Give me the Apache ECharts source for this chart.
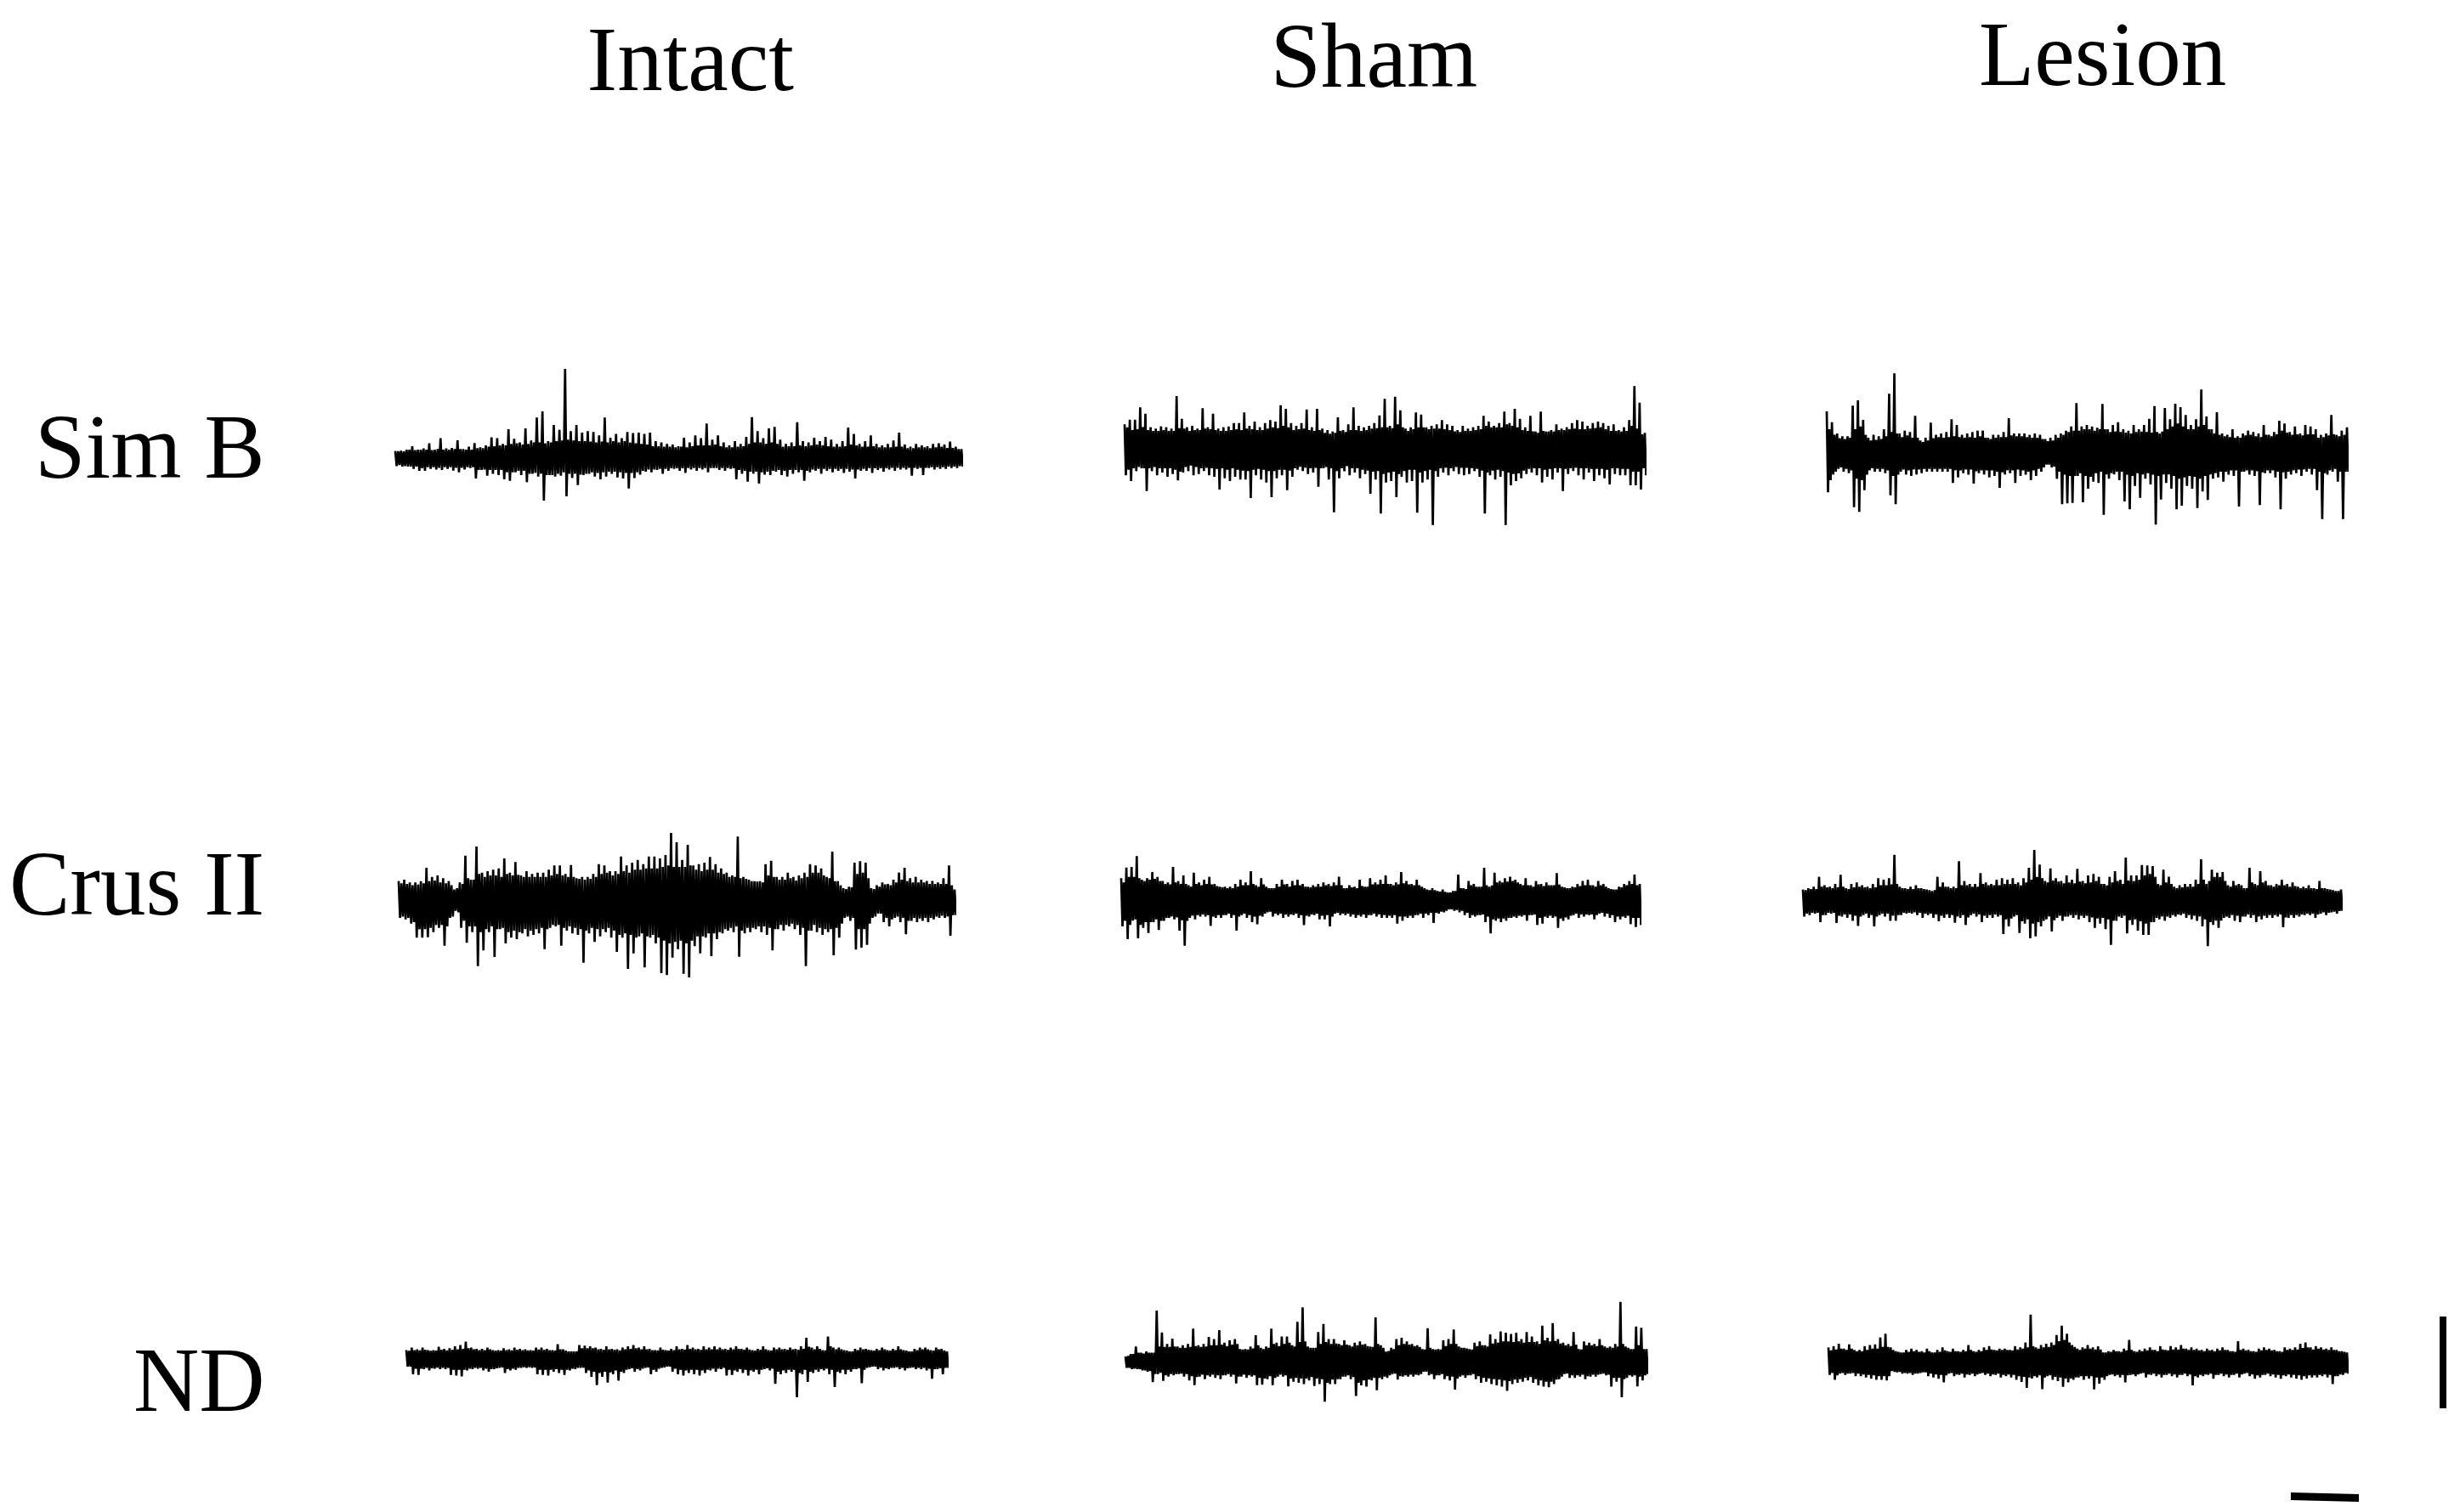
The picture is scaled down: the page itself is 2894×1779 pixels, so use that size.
<!DOCTYPE html>
<html><head><meta charset="utf-8">
<style>html,body{margin:0;padding:0;background:#fff}#c{width:2894px;height:1779px}</style>
<script src="https://cdn.jsdelivr.net/npm/echarts@6/dist/echarts.min.js"></script>
</head><body><div id="c"></div>
<script>
const columns = ['Intact','Sham','Lesion'];
const rows = ['Sim B','Crus II','ND'];
// envelope of each recording: upward and downward excursion per sample
const simBIntactUp = [25,26,30,42,30,34,52,30,70,34,36,63,32,40,53,38,45,73,70,50,102,68,55,105,62,143,165,60,117,100,315,95,117,90,95,92,80,143,72,85,70,92,88,90,85,90,60,55,50,48,42,72,55,80,70,122,65,80,55,45,60,50,75,145,95,70,105,110,65,50,55,127,60,55,72,60,75,65,50,60,108,85,50,60,80,50,45,50,62,90,48,40,50,45,42,50,52,48,58,40,32];
const simBIntactDown = [28,30,30,38,45,45,38,40,42,38,44,50,40,35,72,42,62,55,60,75,80,50,60,85,55,65,150,60,65,62,135,70,95,60,55,65,75,65,55,68,72,107,70,58,48,50,42,55,45,38,45,52,40,45,40,50,35,42,45,38,75,55,83,55,90,58,60,48,60,65,55,50,80,50,45,55,45,50,45,52,48,72,45,45,52,42,48,40,45,40,40,62,38,60,35,40,38,38,35,35,30];
const simBShamUp = [95,112,112,155,133,85,80,88,85,80,195,115,85,90,80,152,85,133,80,85,88,100,100,137,90,105,85,100,110,105,163,150,100,90,100,148,85,150,80,75,70,120,75,95,155,90,85,90,100,127,185,90,193,145,80,85,137,130,85,90,95,110,95,90,75,90,80,85,90,125,105,90,100,140,100,150,115,85,125,70,140,70,75,95,80,85,100,110,105,90,100,105,100,90,95,75,85,110,230,172,65];
const simBShamDown = [85,105,70,60,140,70,85,75,90,80,103,75,70,85,80,70,85,90,135,95,105,90,100,100,165,85,100,110,162,95,85,137,90,65,70,80,75,125,60,100,215,95,70,85,75,95,80,150,100,220,110,105,162,90,110,105,217,110,100,260,90,75,85,70,80,85,80,70,90,220,85,100,90,260,120,105,95,80,75,85,110,90,100,75,140,80,70,85,100,75,105,85,95,117,80,85,85,120,120,135,85];
const simBLesionUp = [153,115,75,65,65,173,192,123,60,70,65,90,215,287,75,85,80,137,50,60,113,70,75,80,125,105,70,75,80,85,85,60,70,70,80,129,75,75,75,70,75,70,55,60,70,75,85,100,182,100,105,100,95,179,90,105,115,90,85,105,90,105,127,172,75,165,125,180,168,140,105,125,230,135,90,150,75,70,90,65,75,85,80,75,105,70,80,120,110,80,100,75,105,100,90,70,75,140,70,85,97];
const simBLesionDown = [133,70,50,60,65,185,202,125,55,60,60,65,143,175,60,70,75,70,65,60,60,60,60,60,100,80,65,70,102,65,70,80,75,117,70,65,100,75,70,90,75,60,35,45,85,175,172,170,75,168,120,95,100,212,85,70,90,165,193,110,152,85,105,247,158,100,120,193,180,110,120,188,130,160,85,80,95,70,75,183,60,70,75,178,65,65,80,193,85,70,65,75,60,70,125,227,70,60,95,227,60];
const crusIntactUp = [70,75,65,65,70,117,85,90,80,70,40,65,160,75,192,100,105,110,115,150,100,137,90,105,95,100,100,110,125,125,95,127,80,85,85,95,130,125,105,105,157,125,135,145,130,157,157,150,162,240,207,145,198,125,130,135,155,130,115,100,90,227,85,75,70,70,130,142,85,85,100,85,90,100,130,125,115,85,174,70,45,50,135,140,135,45,55,65,60,75,100,117,80,85,75,70,70,65,80,125,40];
const crusIntactDown = [60,65,80,130,130,128,110,95,158,60,35,95,148,110,230,175,110,198,100,150,130,135,115,125,120,115,170,95,90,158,105,115,120,218,115,145,125,110,130,180,130,240,185,125,235,130,150,255,262,200,170,257,270,160,185,130,195,135,115,105,110,197,115,110,100,110,120,175,100,105,90,100,120,230,105,110,120,110,192,130,60,70,172,165,155,60,45,75,90,60,75,118,70,75,70,75,65,60,60,123,50];
const crusShamUp = [80,118,120,158,75,80,102,85,70,65,120,70,90,55,100,65,75,85,60,50,50,50,60,75,65,105,55,80,50,45,60,75,60,70,75,60,50,55,60,65,60,65,85,45,55,50,75,50,80,65,75,90,60,65,102,70,60,75,50,40,45,35,40,30,35,93,45,70,60,50,117,50,100,70,80,85,75,60,80,55,70,60,65,55,98,50,45,50,60,70,75,55,70,60,45,40,50,60,70,93,60];
const crusShamDown = [90,135,70,132,95,113,75,103,70,60,65,105,158,60,65,55,55,88,60,60,50,60,105,50,60,75,82,55,40,55,50,60,55,50,60,85,55,50,65,65,90,45,50,50,55,60,55,60,50,55,60,60,60,80,70,60,60,50,60,50,78,45,40,30,35,40,50,60,55,50,75,115,70,75,70,60,60,55,70,50,85,80,60,60,95,70,65,50,60,55,50,65,45,55,60,75,65,60,82,92,85];
const crusLesionUp = [40,45,50,85,55,50,60,92,45,60,65,55,50,60,80,75,80,163,50,45,50,55,45,40,35,85,65,50,50,140,70,60,60,98,65,60,75,80,75,80,65,80,117,180,128,70,115,80,70,90,75,113,70,90,95,85,60,85,105,75,153,90,90,127,125,123,60,110,85,50,55,60,60,75,147,60,110,100,102,55,70,60,45,117,60,105,70,55,60,75,60,65,50,50,55,45,70,45,40,35,40];
const crusLesionDown = [55,50,45,75,50,45,78,55,60,70,88,50,60,90,50,55,70,70,50,45,45,50,60,50,60,72,60,60,77,60,85,50,55,75,60,60,55,117,90,55,113,80,132,125,90,65,108,60,70,55,60,65,60,75,95,80,100,155,70,60,115,85,105,120,120,75,65,70,60,55,50,60,65,70,90,160,85,95,60,60,70,75,55,60,75,65,60,60,55,93,60,60,55,50,50,60,45,50,40,45,35];
const ndIntactUp = [35,45,38,45,35,35,48,40,42,50,55,68,45,40,40,45,35,35,42,38,45,40,38,35,45,45,40,35,58,38,30,30,55,52,50,45,40,50,40,38,45,50,55,45,50,40,35,45,35,40,50,40,55,45,40,50,45,50,45,40,45,50,40,45,35,40,50,35,45,45,40,45,40,50,83,45,50,35,88,45,45,35,30,40,45,40,35,40,45,35,40,50,35,30,40,45,45,35,45,40,30];
const ndIntactDown = [30,60,62,40,45,38,40,40,62,65,68,45,40,38,45,50,40,35,55,45,42,35,35,35,60,62,65,50,55,62,45,40,35,55,70,102,70,92,60,85,55,40,50,45,35,60,50,35,30,50,60,65,55,60,65,55,45,50,40,65,62,50,55,65,50,60,40,45,97,60,55,50,150,60,90,55,50,45,60,110,55,60,50,40,95,35,30,40,45,40,35,40,45,35,40,40,45,77,40,60,35];
const ndShamUp = [20,30,60,35,40,35,203,116,70,91,60,65,70,131,65,70,98,90,125,75,85,90,50,50,60,105,55,60,131,75,100,100,65,158,216,60,55,118,150,90,90,70,85,65,75,80,70,60,176,65,40,55,90,95,80,70,65,50,133,50,50,85,90,128,60,55,50,75,80,65,108,90,120,115,110,115,90,118,100,80,143,95,153,90,75,70,118,50,80,75,70,90,60,60,70,238,60,50,140,135,50];
const ndShamDown = [25,30,30,35,40,82,50,77,60,55,50,60,75,94,60,70,60,65,70,55,60,87,60,65,60,94,92,70,94,60,60,99,80,85,90,75,97,90,160,90,90,70,60,70,137,95,100,75,114,70,65,50,72,60,60,60,55,40,55,70,55,70,75,112,60,65,55,70,85,80,90,95,100,117,90,85,80,75,85,95,100,102,90,70,50,65,65,60,70,60,60,50,55,100,80,142,65,60,99,75,50];
const ndLesionUp = [60,65,75,55,72,50,50,65,70,72,100,115,60,45,40,50,55,50,45,55,40,50,60,45,55,45,50,70,45,50,60,65,50,55,55,50,65,60,80,192,60,70,75,80,110,147,115,70,55,60,70,60,65,40,45,50,45,55,90,45,50,55,60,50,65,50,65,60,70,55,60,55,50,55,50,55,60,50,45,85,55,50,45,55,60,55,50,45,60,55,60,75,80,60,65,60,55,60,50,45,40];
const ndLesionDown = [50,70,45,50,45,55,55,60,65,70,70,72,35,40,45,45,50,45,40,55,60,65,80,45,55,50,60,50,55,45,50,55,50,60,55,60,70,78,102,65,60,107,55,70,75,98,80,70,60,70,65,108,85,70,50,55,60,80,50,55,45,60,50,55,60,50,55,60,50,55,92,60,55,50,65,50,55,60,50,60,45,55,65,60,50,55,60,65,55,60,65,70,65,60,60,55,60,87,55,50,45];

// in-between samples, read at half steps from the dense part of each trace
const simBIntactMidUp = [24,24,30,28,30,30,28,32,30,30,32,32,30,30,35,35,40,42,45,45,50,52,48,50,55,55,52,55,60,62,65,62,60,60,58,55,58,55,60,55,60,55,52,50,48,42,42,40,40,38,40,38,42,45,45,45,48,42,38,38,40,42,50,55,55,50,55,50,40,42,42,45,42,45,48,45,42,40,40,42,48,45,40,40,42,38,38,38,40,40,35,35,38,38,35,38,40,36,36,32];
const simBIntactMidDown = [24,28,30,30,36,32,32,34,32,32,34,34,32,32,42,40,42,42,42,50,50,45,45,55,52,55,60,60,55,50,55,55,58,55,50,52,50,48,48,50,52,52,50,45,40,40,38,38,36,36,36,35,35,35,35,35,35,35,35,36,42,45,48,48,50,48,45,42,45,42,42,42,45,40,38,38,38,38,38,38,40,40,38,36,36,36,36,34,34,34,34,34,34,34,32,32,32,30,30,28];
const simBShamMidUp = [85,75,78,85,75,72,72,75,72,72,82,80,72,75,75,80,78,75,72,72,75,78,75,80,78,75,75,80,85,82,90,85,75,78,80,75,72,75,65,62,65,72,68,75,75,72,75,80,82,85,85,82,95,85,72,78,85,85,78,80,80,78,75,70,68,72,72,75,78,90,85,85,85,95,90,85,75,72,70,65,72,70,70,75,75,78,80,78,78,80,82,85,78,72,72,70,72,90,80,60];
const simBShamMidDown = [65,60,55,60,60,55,60,60,60,65,72,55,50,55,60,58,60,62,60,65,60,65,68,70,65,62,65,70,70,65,65,68,60,55,58,60,58,60,55,60,70,60,52,60,60,65,68,72,70,80,75,72,80,70,65,65,75,70,65,70,60,58,60,55,58,58,60,62,68,75,68,65,70,75,80,78,68,62,60,60,65,62,60,60,62,60,58,60,60,62,62,62,65,60,60,62,62,72,72,60];
const simBLesionMidUp = [90,70,58,55,60,90,100,70,50,52,55,65,80,75,62,68,60,60,45,50,58,62,60,62,65,62,60,62,60,65,60,55,60,62,62,68,65,65,62,60,60,55,48,50,60,70,80,85,85,90,90,85,90,90,80,82,80,78,75,80,82,80,78,80,82,90,100,110,100,90,90,100,105,90,75,70,65,62,60,60,68,70,65,62,70,65,72,85,78,70,72,68,72,72,60,62,68,72,65,70];
const simBLesionMidDown = [90,60,45,50,55,85,90,70,48,50,50,55,75,70,52,55,52,52,50,50,50,50,50,50,55,55,52,52,58,55,55,55,60,62,55,55,52,55,60,55,50,45,35,42,60,70,75,75,65,75,78,65,60,70,65,60,60,70,75,65,70,65,70,75,70,70,75,85,80,75,78,85,75,70,65,60,60,55,55,60,55,55,58,62,55,55,60,62,60,55,52,52,50,50,60,65,55,50,60,60];
const crusIntactMidUp = [62,60,55,58,62,70,72,65,62,55,45,60,80,75,95,85,90,90,85,95,90,92,85,85,85,85,85,90,95,90,85,85,78,75,78,85,95,100,90,95,105,100,110,110,115,115,115,120,125,120,120,120,125,110,105,110,110,100,95,85,85,80,78,70,68,65,90,85,75,75,80,72,80,85,100,100,90,80,70,55,42,48,95,100,80,42,50,58,55,65,75,70,65,65,65,60,60,60,60,55];
const crusIntactMidDown = [55,60,75,100,100,95,85,85,90,55,40,70,90,90,110,100,90,100,95,110,105,110,100,105,100,95,100,85,85,95,90,95,100,105,95,100,100,95,105,120,115,120,130,115,125,120,130,140,150,145,140,150,140,125,125,115,115,110,100,95,90,105,95,95,90,90,95,100,85,85,80,85,95,105,85,95,100,100,95,80,55,60,100,100,80,55,45,60,65,55,60,70,60,62,60,60,55,52,55,50];
const crusShamMidUp = [65,85,85,80,70,75,78,70,60,58,65,60,60,50,60,55,60,58,52,48,45,45,50,55,55,60,50,58,45,45,50,58,50,55,55,50,48,50,50,55,52,55,55,45,48,45,52,50,58,58,60,60,55,58,62,58,55,55,45,38,38,33,32,30,35,45,42,55,50,50,55,55,65,65,68,70,65,55,55,50,58,52,55,55,58,48,45,48,52,55,55,50,55,50,42,40,48,55,60,55];
const crusShamMidDown = [70,85,65,85,75,75,65,70,60,55,58,68,70,52,50,48,50,55,50,50,45,50,55,45,50,55,52,45,38,45,45,48,48,45,50,52,48,45,52,50,55,42,45,45,48,50,48,50,45,48,50,52,50,55,55,52,50,45,45,42,42,38,35,30,32,35,42,50,50,48,55,65,62,62,60,55,52,50,50,48,60,55,52,55,62,58,52,45,48,48,48,50,42,45,50,55,55,52,60,60];
const crusLesionMidUp = [38,42,42,50,48,45,48,50,42,48,50,48,45,48,55,55,58,60,45,42,42,45,42,38,38,50,50,45,45,55,55,50,50,60,55,55,55,60,60,60,55,65,75,85,80,65,72,68,62,65,62,68,62,65,70,60,55,65,70,60,72,70,75,90,95,85,55,65,60,45,48,50,50,60,75,70,85,85,70,50,55,55,45,65,55,65,55,50,55,55,50,52,45,45,45,42,45,42,38,35];
const crusLesionMidDown = [45,42,42,50,42,42,52,48,48,52,55,45,50,55,45,45,52,50,42,42,40,42,45,45,48,52,48,50,55,50,58,45,48,52,50,48,50,65,62,50,72,65,80,75,70,55,68,52,55,50,50,52,52,58,62,60,65,70,55,52,68,65,72,80,75,60,55,55,50,48,45,50,52,55,65,75,70,70,55,50,52,55,48,50,55,52,50,50,48,58,50,50,48,45,45,48,40,42,38,36];
const ndIntactMidUp = [32,35,34,36,32,33,36,34,36,38,40,42,38,35,35,38,33,33,35,34,36,35,34,33,37,36,35,33,38,33,30,30,42,42,42,38,36,38,36,34,38,40,42,38,38,35,34,36,33,35,38,37,40,38,36,38,38,38,38,36,38,40,36,37,33,36,38,33,38,38,36,38,36,40,48,38,40,34,50,38,38,33,30,35,38,36,33,35,38,33,35,38,33,30,35,38,38,33,38,34];
const ndIntactMidDown = [30,38,38,35,36,34,35,35,42,42,42,38,35,35,38,40,36,33,40,38,35,32,32,33,42,42,42,40,42,42,38,35,34,45,50,55,50,52,45,50,42,36,40,38,33,42,38,33,30,38,42,45,42,42,45,42,38,38,35,42,45,40,42,45,42,42,36,38,50,45,42,42,55,42,50,42,40,38,42,50,42,42,40,36,42,32,30,34,36,35,32,35,36,33,35,35,38,40,36,35];
const ndShamMidUp = [22,30,35,32,35,35,60,58,58,60,55,55,58,62,58,60,65,65,68,62,68,70,48,48,52,65,50,55,70,62,70,75,60,78,80,55,55,70,78,70,72,65,68,60,65,68,62,58,70,55,42,50,65,70,68,62,58,48,55,48,48,62,70,70,55,52,48,62,65,60,72,75,80,80,78,80,75,78,78,70,85,80,82,72,65,62,68,48,65,65,62,65,55,55,60,70,55,50,65,50];
const ndShamMidDown = [25,28,30,35,38,50,45,55,50,50,48,50,58,62,52,55,52,55,55,50,52,60,52,55,55,65,68,58,65,52,55,68,65,68,68,62,68,70,85,72,70,60,55,62,85,75,72,65,65,60,55,48,58,55,52,52,50,40,50,55,50,58,60,68,55,55,50,58,65,68,70,72,75,78,72,70,65,62,70,75,80,80,72,60,48,55,55,52,58,52,52,48,52,65,65,70,55,55,60,55];
const ndLesionMidUp = [48,52,55,50,55,45,45,50,55,55,62,62,50,42,40,42,45,42,40,45,40,42,48,42,45,42,45,50,42,45,50,52,48,50,50,48,52,55,60,65,55,60,62,70,85,90,80,62,50,55,55,52,52,40,42,45,42,48,50,42,45,48,50,45,52,48,52,52,55,50,50,48,45,48,45,48,50,45,42,50,48,45,42,48,50,48,45,42,50,50,52,58,60,52,55,52,50,50,45,42];
const ndLesionMidDown = [42,52,42,45,42,45,48,50,52,55,55,55,38,38,42,42,45,42,40,45,48,50,52,42,48,45,48,45,48,42,45,48,45,50,48,50,55,58,60,55,52,60,52,58,60,65,65,60,55,55,55,60,60,55,48,50,50,52,48,48,42,48,45,48,50,45,48,50,45,48,55,50,48,45,50,45,48,50,45,48,42,48,52,50,45,48,50,52,48,50,52,55,52,52,50,48,50,55,48,42];

const recordings = [
  [simBIntactUp, simBIntactDown, simBIntactMidUp, simBIntactMidDown],
  [simBShamUp, simBShamDown, simBShamMidUp, simBShamMidDown],
  [simBLesionUp, simBLesionDown, simBLesionMidUp, simBLesionMidDown],
  [crusIntactUp, crusIntactDown, crusIntactMidUp, crusIntactMidDown],
  [crusShamUp, crusShamDown, crusShamMidUp, crusShamMidDown],
  [crusLesionUp, crusLesionDown, crusLesionMidUp, crusLesionMidDown],
  [ndIntactUp, ndIntactDown, ndIntactMidUp, ndIntactMidDown],
  [ndShamUp, ndShamDown, ndShamMidUp, ndShamMidDown],
  [ndLesionUp, ndLesionDown, ndLesionMidUp, ndLesionMidDown]
];

// layout (pixels): left, right, centre line
const frames = [
  [465,1131,539],[1323,1935,531],[2149,2761,535],
  [469,1123,1060],[1319,1929,1060],[2121,2754,1060],
  [478,1114,1619],[1324,1937,1625],[2151,2761,1627]
];
const colLabels = [[690.5,77.5],[1494.6,73.5],[2328,71.5]];
const rowLabels = [[41,534],[11,1048],[157,1632]];
const FS = 107;

const grids=[],xAxes=[],yAxes=[],series=[];
recordings.forEach(([up,down,midUp,midDown],k)=>{
  const [x0,x1,c]=frames[k];
  grids.push({left:x0,top:c-200,width:x1-x0,height:400,show:false});
  xAxes.push({type:'value',gridIndex:k,min:0,max:up.length-1,show:false});
  yAxes.push({type:'value',gridIndex:k,min:-600,max:600,show:false});
  const data=[];
  up.forEach((u,i)=>{
    data.push([i,u],[i+0.25,-down[i]]);
    if(i<midUp.length) data.push([i+0.5,midUp[i]],[i+0.75,-midDown[i]]);
  });
  series.push({
    type:'line',xAxisIndex:k,yAxisIndex:k,data,clip:false,animation:false,silent:true,
    showSymbol:false,symbol:'none',sampling:false,
    lineStyle:{color:'#000',width:2.7,join:'miter',miterLimit:4}
  });
});

const texts=[];
columns.forEach((t,i)=>texts.push({type:'text',left:colLabels[i][0],top:colLabels[i][1]-FS/2,style:{text:t,font:FS+'px "Liberation Serif"',fill:'#000'}}));
rows.forEach((t,i)=>texts.push({type:'text',left:rowLabels[i][0],top:rowLabels[i][1]-FS/2,style:{text:t,font:FS+'px "Liberation Serif"',fill:'#000'}}));
texts.push({type:'rect',left:2870,top:1549,shape:{width:8,height:108},style:{fill:'#000'}});
texts.push({type:'polygon',shape:{points:[[2695,1756],[2775,1758],[2775,1767],[2695,1765]]},style:{fill:'#000'}});

const chart=echarts.init(document.getElementById('c'),null,{renderer:'canvas',width:2894,height:1779});
chart.setOption({animation:false,backgroundColor:'#fff',grid:grids,xAxis:xAxes,yAxis:yAxes,series,graphic:{elements:texts}});
</script></body></html>
